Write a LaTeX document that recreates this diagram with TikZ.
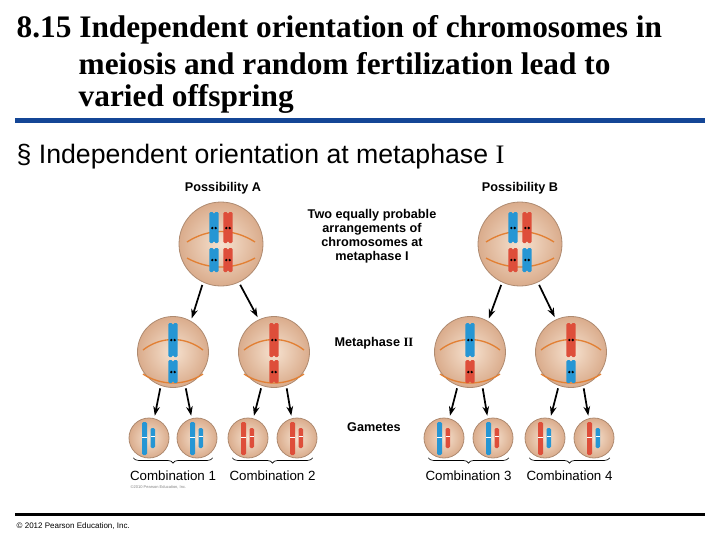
\documentclass[tikz,border=0pt]{standalone}
\usepackage{fontspec}
\setmainfont{Liberation Serif}
\setsansfont{Liberation Sans}
\usetikzlibrary{arrows.meta,decorations.pathreplacing,calc}
\definecolor{chblue}{RGB}{38,150,212}
\definecolor{chred}{RGB}{222,78,58}
\definecolor{celltan}{RGB}{218,172,140}
\definecolor{celllight}{RGB}{246,226,208}
\definecolor{spindle}{RGB}{226,128,52}
\definecolor{rulblue}{RGB}{20,70,150}
\tikzset{
  cell/.style={circle,draw=celltan!80!black,line width=0.6pt,inner sep=0pt,
    inner color=celllight,outer color=celltan},
  arr/.style={-{Stealth[length=7pt,width=5pt]},line width=1.3pt,shorten >=2pt,shorten <=2pt},
  lab/.style={font=\sffamily\bfseries\fontsize{9.5}{10.5}\selectfont,align=center},
  comb/.style={font=\sffamily\fontsize{10}{12}\selectfont},
  ttl/.style={anchor=west,font=\bfseries\fontsize{23.5}{26}\selectfont},
  brace/.style={decorate,decoration={brace,mirror,amplitude=4pt},line width=0.5pt}
}
% one chromatid bar: x, top, bottom, colour
\newcommand\chbar[4]{\fill[#4,rounded corners=1pt] (#1-2.2,#2) rectangle (#1+2.2,#3);}
% pair of sister chromatids with centromere
\newcommand\chpair[5]{\chbar{#1-2.4}{#2}{#3}{#5}\chbar{#1+2.4}{#2}{#3}{#5}
  \fill[black] (#1-1.7,#4) circle[radius=1.3] (#1+1.7,#4) circle[radius=1.3];}
% spindle lens
\newcommand\spin[4]{\draw[spindle,line width=1pt] (#1-#3,#2-2) .. controls (#1-12,#2-16) and (#1+12,#2-16) .. (#1+#3,#2-2);
  \draw[spindle,line width=1pt] (#1-#3,#2+#4) .. controls (#1-12,#2+#4+12) and (#1+12,#2+#4+12) .. (#1+#3,#2+#4);}
% gamete chromosomes
\newcommand\gam[3]{\fill[#2,rounded corners=1pt] (#1-7,438-16) rectangle (#1-2,438+17);
  \draw[white,line width=0.7pt] (#1-7,437) -- (#1-2,437);
  \fill[#3,rounded corners=1pt] (#1+1.5,438-10) rectangle (#1+6,438+10);
  \draw[white,line width=0.7pt] (#1+1.5,436) -- (#1+6,436);}
\begin{document}
\begin{tikzpicture}[x=0.75pt,y=-0.75pt]
	\useasboundingbox (0,0) rectangle (720,540);

	% title
	\node[ttl] (t1) at (12,30) {8.15 Independent orientation of chromosomes in};
	\node[ttl] (t2) at (74,64) {meiosis and random fertilization lead to};
	\node[ttl] (t3) at (74,99) {varied offspring};
	\fill[rulblue] (15,118) rectangle (705,123);
	\node[anchor=west,font=\sffamily\fontsize{20}{22}\selectfont] (bul) at (12,157) {\S\ Independent orientation at metaphase {\rmfamily I}};

	% cells
	\node[cell,minimum size=84*0.75pt] (mA) at (221,244) {};
	\node[cell,minimum size=84*0.75pt] (mB) at (520,244) {};
	\node[cell,minimum size=71*0.75pt] (aL) at (173,352) {};
	\node[cell,minimum size=71*0.75pt] (aR) at (274,352) {};
	\node[cell,minimum size=71*0.75pt] (bL) at (470,352) {};
	\node[cell,minimum size=71*0.75pt] (bR) at (571,352) {};
	\foreach \n/\x in {g1/149,g2/197,g3/248,g4/297,g5/444,g6/493,g7/545,g8/594}
		\node[cell,minimum size=40*0.75pt] (\n) at (\x,438) {};

	% metaphase I chromosomes
	\spin{221}{244}{34}{14}
	\chpair{214}{212}{243}{228}{chblue}\chpair{228}{212}{243}{228}{chred}
	\chpair{214}{248}{272}{260}{chblue}\chpair{228}{248}{272}{260}{chred}
	\spin{520}{244}{34}{14}
	\chpair{513}{212}{243}{228}{chblue}\chpair{527}{212}{243}{228}{chred}
	\chpair{513}{248}{272}{260}{chred}\chpair{527}{248}{272}{260}{chblue}

	% metaphase II chromosomes
	\foreach \x/\cu/\cl in {173/chblue/chblue,274/chred/chred,470/chblue/chred,571/chred/chblue}{
		\spin{\x}{352}{30}{22}
		\chpair{\x}{323}{357}{340}{\cu}
		\chpair{\x}{360}{383}{372}{\cl}
	}

	% gametes
	\gam{149}{chblue}{chblue}\gam{197}{chblue}{chblue}
	\gam{248}{chred}{chred}\gam{297}{chred}{chred}
	\gam{444}{chblue}{chred}\gam{493}{chblue}{chred}
	\gam{545}{chred}{chblue}\gam{594}{chred}{chblue}

	% arrows
	\foreach \p/\l/\r in {mA/aL/aR,mB/bL/bR}{
		\draw[arr] (\p.245) -- (\l.60);
		\draw[arr] (\p.295) -- (\r.115);
	}
	\foreach \p/\l/\r in {aL/g1/g2,aR/g3/g4,bL/g5/g6,bR/g7/g8}{
		\draw[arr] (\p.250) -- (\l.75);
		\draw[arr] (\p.290) -- (\r.105);
	}

	% labels
	\node[lab] (pA) at (223,188) {Possibility A};
	\node[lab] (pB) at (520,188) {Possibility B};
	\node[lab] (two) at (372,236) {Two equally probable\\arrangements of\\chromosomes at\\metaphase I};
	\node[lab] (m2) at (374,343) {Metaphase {\rmfamily II}};
	\node[lab] (gm) at (374,427) {Gametes};

	% combinations
	\foreach \a/\b/\k in {g1/g2/1,g3/g4/2,g5/g6/3,g7/g8/4}{
		\draw[brace] ([xshift=-1pt,yshift=-4pt]\a.south west) -- ([xshift=1pt,yshift=-4pt]\b.south east);
		\node[comb] (c\k) at ($(\a)!0.5!(\b)+(0,38)$) {Combination \k};
	}
	\node[font=\sffamily\fontsize{3}{3}\selectfont,anchor=west,gray] (cp1) at (126,487) {\copyright 2010 Pearson Education, Inc.};

	% footer
	\fill[black] (15,513) rectangle (705,516);
	\node[anchor=west,font=\sffamily\fontsize{6}{7}\selectfont] (cp2) at (12,526) {\copyright\ 2012 Pearson Education, Inc.};

\end{tikzpicture}
\end{document}
